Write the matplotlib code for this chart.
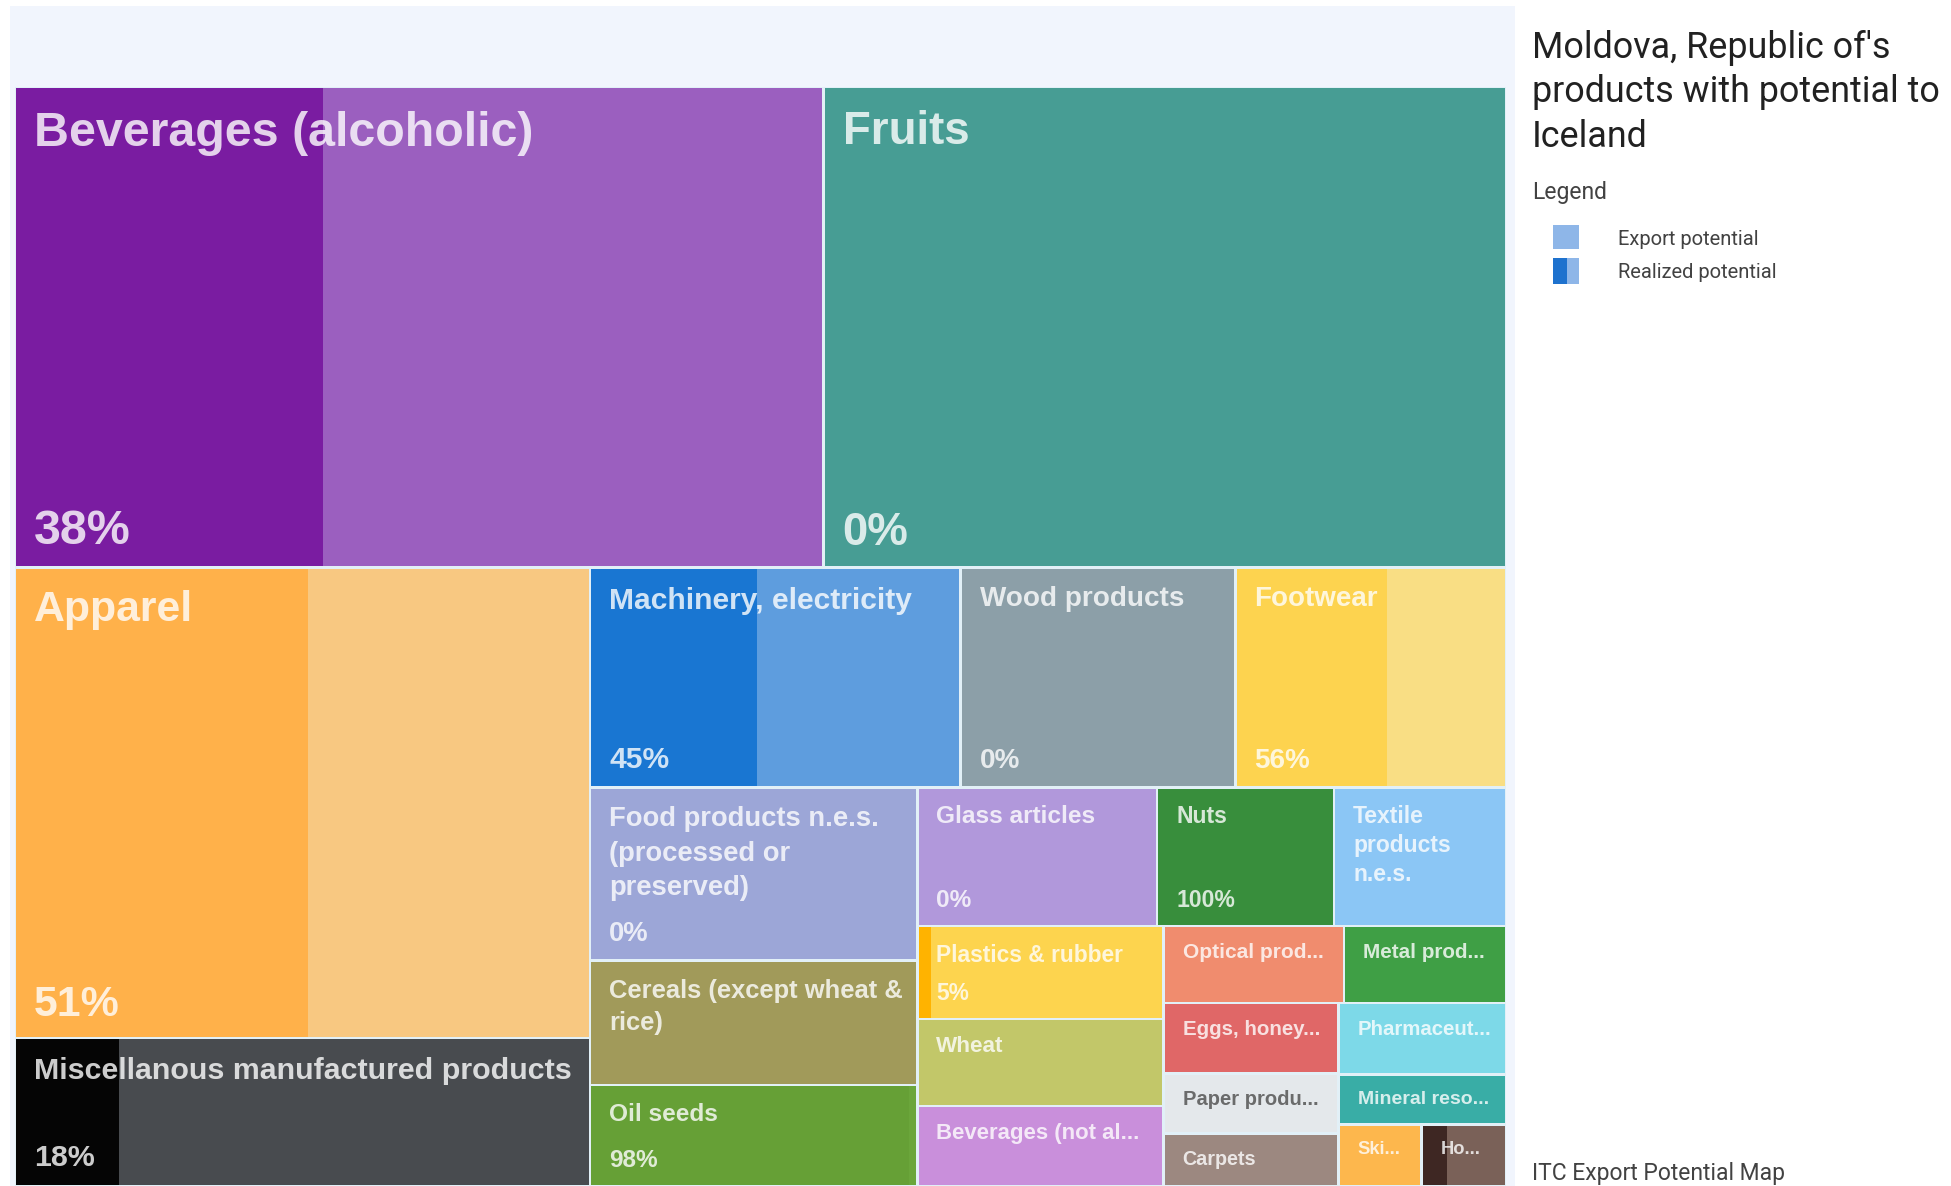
import numpy as np
import matplotlib.pyplot as plt
from matplotlib.patches import Rectangle

# canvas size in pixels (axes use pixel units, y pointing down)
W, H = 1951, 1186

# product groups, in layout order
labels = ['Beverages (alcoholic)', 'Fruits', 'Apparel', 'Miscellanous manufactured products',
          'Machinery, electricity', 'Wood products', 'Footwear',
          'Food products n.e.s.\n(processed or\npreserved)', 'Cereals (except wheat &\nrice)', 'Oil seeds',
          'Glass articles', 'Nuts', 'Textile\nproducts\nn.e.s.',
          'Plastics & rubber', 'Wheat', 'Beverages (not al...',
          'Optical prod...', 'Metal prod...',
          'Eggs, honey...', 'Paper produ...', 'Carpets',
          'Pharmaceut...', 'Mineral reso...', 'Ski...', 'Ho...']

# export potential (relative units)
potential = [388.5, 327.9, 270.4, 85.2, 81.5, 60.5, 59.5, 56.6, 40.7, 33.0,
             33.2, 24.5, 23.8, 22.9, 21.4, 19.7, 13.9, 12.5, 12.3, 10.5,
             9.2, 11.9, 8.4, 5.1, 5.2]

# share of potential already realized
realized = [0.38, 0.0, 0.51, 0.18, 0.45, 0.0, 0.56, 0.0, 0.0, 0.98,
            0.0, 1.0, 0.0, 0.05, 0.0, 0.0, 0.0, 0.0, 0.0, 0.0,
            0.0, 0.0, 0.0, 0.0, 0.29]

show_pct = [True, True, True, True, True, True, True, True, False, True,
            True, True, False, True, False, False, False, False, False, False,
            False, False, False, False, False]

color_export = ['#9B5FBF', '#479D94', '#F8C881', '#484B4F', '#5E9DDE', '#8C9FA8', '#F9DE84',
                '#9CA6D7', '#A19A5A', '#6BA63B', '#B198DB', '#81C784', '#8BC6F5',
                '#FDD44E', '#C2C769', '#C98FDB', '#F08C6E', '#3F9F45', '#E06767',
                '#E4E8EB', '#9C8880', '#7DD9E8', '#39ADA6', '#FDB74D', '#7A6158']
color_realized = ['#7A1CA1', '#00695C', '#FFB14A', '#050505', '#1976D2', '#455A64', '#FDD34F',
                  '#3F51B5', '#827717', '#66A036', '#673AB7', '#388E3C', '#1976D2',
                  '#FFB300', '#9E9D24', '#8E24AA', '#D84315', '#1B5E20', '#C62828',
                  '#90A4AE', '#5D4037', '#00838F', '#00695C', '#EF6C00', '#3E2723']
text_dark = ['Paper produ...']

# nested layout: even depth stacks vertically, odd depth side by side
rest = [[18, 19, 20], [21, 22, [23, 24]]]
for grp in ([16, 17], [13, 14, 15], [10, 11, 12], [7, 8, 9], [4, 5, 6], [2, 3], [0, 1]):
    rest = [grp, rest]
layout = rest


def total(node):
    if isinstance(node, int):
        return potential[node]
    return sum(total(c) for c in node)


def place(node, x0, y0, x1, y1, depth, out):
    if isinstance(node, int):
        out[node] = (x0, y0, x1, y1)
        return
    s = total(node)
    pos = y0 if depth % 2 == 0 else x0
    for c in node:
        f = total(c) / s
        if depth % 2 == 0:
            step = (y1 - y0) * f
            place(c, x0, pos, x1, pos + step, depth + 1, out)
        else:
            step = (x1 - x0) * f
            place(c, pos, y0, pos + step, y1, depth + 1, out)
        pos += step


cells = {}
place(layout, 15, 87, 1506, 1186, 0, cells)

fig = plt.figure(figsize=(W / 100, H / 100), dpi=100)
ax = fig.add_axes([0, 0, 1, 1])
ax.set_xlim(0, W)
ax.set_ylim(H, 0)
ax.axis('off')

ax.add_patch(Rectangle((10, 6), 1505, H - 6, color='#F1F5FD', lw=0))
ax.add_patch(Rectangle((15, 87), 1491, H - 87, color='#E2F0F7', lw=0))

fam = ['Liberation Sans', 'DejaVu Sans']
g = 1.3
for i, name in enumerate(labels):
    x0, y0, x1, y1 = cells[i]
    w = x1 - x0 - 2 * g
    h = y1 - y0 - 2 * g
    dw = w * realized[i]
    ax.add_patch(Rectangle((x0 + g, y0 + g), dw, h, color=color_realized[i], lw=0))
    ax.add_patch(Rectangle((x0 + g + dw, y0 + g), w - dw, h, color=color_export[i], lw=0))

    fs_px = 14.5 + 1.72 * np.sqrt((x1 - x0) * (y1 - y0) / 1000)
    fs = fs_px * 0.72
    if name in text_dark:
        tc, ta = '#555555', 0.85
    else:
        tc, ta = 'white', 0.8
    top = y0 + 12 + 0.24 * fs_px
    for k, line in enumerate(name.split('\n')):
        ax.text(x0 + 19, top + k * 1.26 * fs_px, line, va='top', ha='left',
                fontsize=fs, fontweight='bold', family=fam, color=tc, alpha=ta)
    if show_pct[i]:
        ax.text(x0 + 19, y1 - (15 + 0.17 * fs_px), f'{round(realized[i] * 100)}%',
                va='baseline', ha='left', fontsize=fs, fontweight='bold',
                family=fam, color=tc, alpha=ta)

# side panel
rfam = ['Roboto', 'DejaVu Sans']
title_lines = ["Moldova, Republic of's", 'products with potential to', 'Iceland']
for k, line in enumerate(title_lines):
    ax.text(1532, 58 + k * 44.5, line, va='baseline', ha='left', fontsize=25.8,
            family=rfam, color='#212121')
ax.text(1532, 199, 'Legend', va='baseline', ha='left', fontsize=16.5, family=rfam, color='#424242')

ax.add_patch(Rectangle((1553, 225), 26, 24, color='#8EB6E8', lw=0))
ax.add_patch(Rectangle((1553, 258), 14, 26, color='#1E72CE', lw=0))
ax.add_patch(Rectangle((1567, 258), 12, 26, color='#8EB6E8', lw=0))
ax.text(1618, 245, 'Export potential', va='baseline', ha='left', fontsize=14.5,
        family=rfam, color='#424242')
ax.text(1618, 278, 'Realized potential', va='baseline', ha='left', fontsize=14.5,
        family=rfam, color='#424242')
ax.text(1532, 1180, 'ITC Export Potential Map', va='baseline', ha='left', fontsize=16.5,
        family=rfam, color='#424242')

fig.savefig('out.png', dpi=100)
